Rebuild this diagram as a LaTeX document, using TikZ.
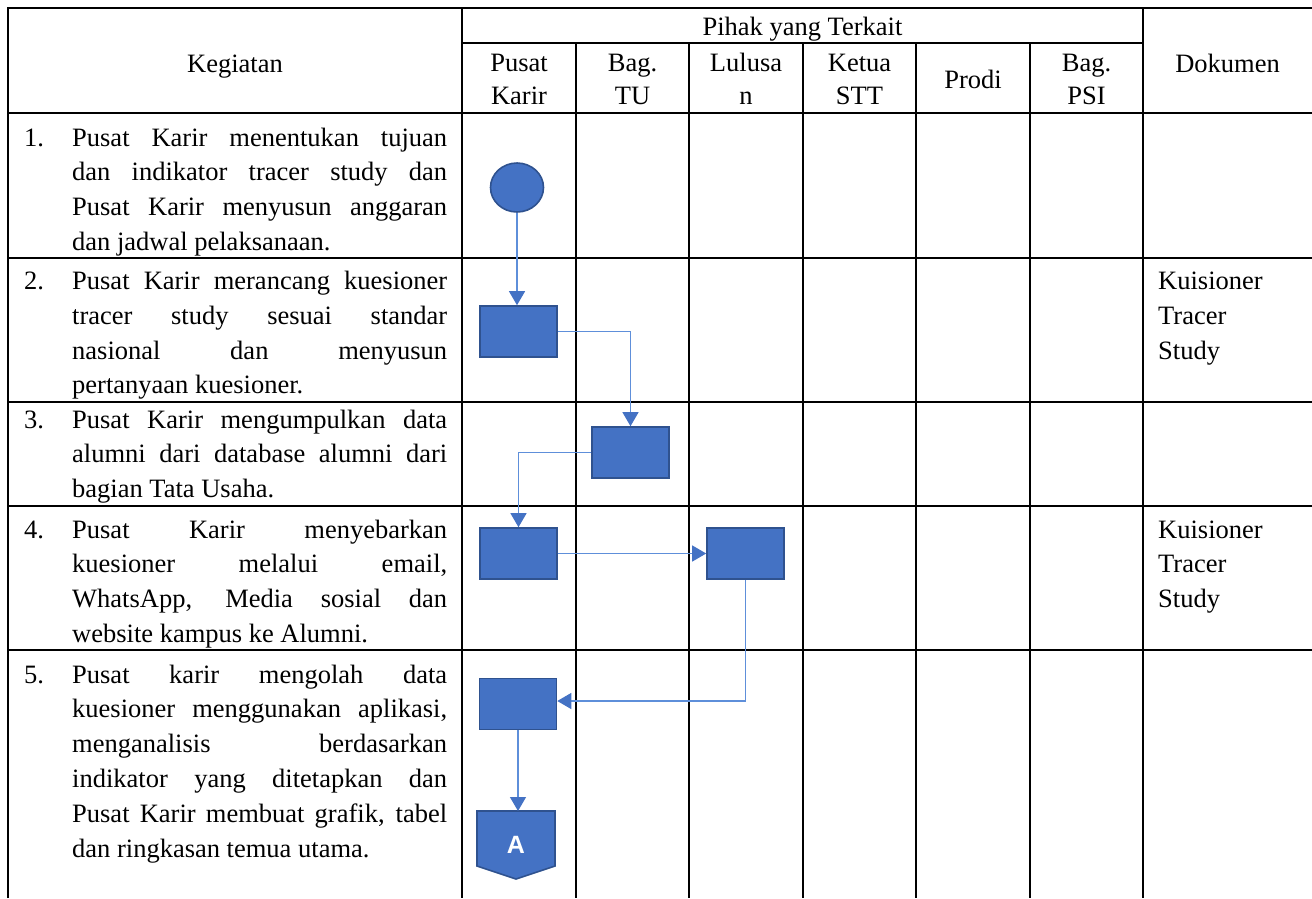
\documentclass[tikz,border=0pt]{standalone}
\usepackage{fontspec}
\setmainfont{Liberation Serif}
\newfontfamily\labelsans{Liberation Sans}
\usetikzlibrary{arrows.meta,shapes.geometric}
\definecolor{boxfill}{HTML}{4472C4}
\definecolor{boxedge}{HTML}{2F528F}
\definecolor{flowline}{HTML}{5E8FDA}
\tolerance=10000
\hbadness=10000
\hyphenpenalty=10000
\begin{document}
\begin{tikzpicture}[x=1pt,y=-1pt,
  grid/.style={line width=1.6pt,black},
  proc/.style={draw=boxedge,fill=boxfill,line width=1.6pt,minimum width=77pt,minimum height=51pt,inner sep=0pt},
  startnode/.style={ellipse,draw=boxedge,fill=boxfill,line width=1.6pt,minimum width=53pt,minimum height=49pt,inner sep=0pt},
  offpage/.style={draw=boxedge,fill=boxfill,line width=1.6pt,line join=miter},
  flow/.style={draw=flowline,line width=1.2pt,-{Triangle[width=16pt,length=14pt,color=boxfill]}},
  body/.style={anchor=base west,inner sep=0pt,text width=375pt,align=justify,font=\fontsize{26.5}{34.8}\selectfont},
  numlab/.style={anchor=base west,inner sep=0pt,font=\fontsize{26.5}{34.8}\selectfont},
  doclab/.style={anchor=base west,inner sep=0pt,text width=150pt,align=left,font=\fontsize{26.5}{34.8}\selectfont},
  hdr/.style={anchor=base,inner sep=0pt,text width=112pt,align=center,font=\fontsize{26.5}{33.5}\selectfont},
  widehdr/.style={anchor=base,inner sep=0pt,font=\fontsize{26.5}{33.5}\selectfont}
]
\useasboundingbox (0,0) rectangle (1312,898);

% table frame and rules
\draw[grid] (8,898) -- (8,8) -- (1312,8);
\draw[grid] (462,8) -- (462,898);
\draw[grid] (1143,8) -- (1143,898);
\draw[grid] (462,43) -- (1143,43);
\foreach \xx in {576,689,803,916,1030}
  \draw[grid] (\xx,43) -- (\xx,898);
\foreach \yy in {113,258,402,506,650}
  \draw[grid] (8,\yy) -- (1312,\yy);

% header texts
\node[widehdr] (hkeg) at (235,72) {Kegiatan};
\node[widehdr] (hpihak) at (802.5,35) {Pihak yang Terkait};
\node[widehdr] (hdok) at (1227.5,72) {Dokumen};
\node[hdr] (hpk) at (519,71) {Pusat\\Karir};
\node[hdr] (htu) at (632.5,71) {Bag.\\TU};
\node[hdr] (hlul) at (746,71) {Lulusa\\n};
\node[hdr] (hstt) at (859.5,71) {Ketua\\STT};
\node[widehdr] (hprodi) at (973,88) {Prodi};
\node[hdr] (hpsi) at (1086.5,71) {Bag.\\PSI};

% activity descriptions
\node[numlab] (n1) at (24,146) {1.};
\node[body] (t1) at (72,146) {Pusat Karir menentukan tujuan\linebreak dan indikator tracer study dan\linebreak Pusat Karir menyusun anggaran\linebreak dan jadwal pelaksanaan.};
\node[numlab] (n2) at (24,289.5) {2.};
\node[body] (t2) at (72,289.5) {Pusat Karir merancang kuesioner\linebreak tracer study sesuai standar\linebreak nasional dan menyusun\linebreak pertanyaan kuesioner.};
\node[numlab] (n3) at (24,428) {3.};
\node[body] (t3) at (72,428) {Pusat Karir mengumpulkan data\linebreak alumni dari database alumni dari\linebreak bagian Tata Usaha.};
\node[numlab] (n4) at (24,538) {4.};
\node[body] (t4) at (72,538) {Pusat Karir menyebarkan\linebreak kuesioner melalui email,\linebreak WhatsApp, Media sosial dan\linebreak website kampus ke Alumni.};
\node[numlab] (n5) at (24,683) {5.};
\node[body] (t5) at (72,683) {Pusat karir mengolah data\linebreak kuesioner menggunakan aplikasi,\linebreak menganalisis berdasarkan\linebreak indikator yang ditetapkan dan\linebreak Pusat Karir membuat grafik, tabel\linebreak dan ringkasan temua utama.};

% documents
\node[doclab] (d2) at (1158,289.5) {Kuisioner\\Tracer\\Study};
\node[doclab] (d4) at (1158,538) {Kuisioner\\Tracer\\Study};

% flowchart symbols
\node[startnode] (c0) at (517,187.5) {};
\node[proc] (r1) at (518.5,331.5) {};
\node[proc] (r2) at (630.5,452.5) {};
\node[proc] (r3) at (518.5,553.5) {};
\node[proc] (r4) at (745.5,553.5) {};
\node[proc] (r5) at (518,704) {};
\draw[offpage] (477,811) -- (555,811) -- (555,866) -- (516,879) -- (477,866) -- cycle;
\coordinate (offtop) at (516,811);
\node[anchor=base,inner sep=0pt,text=white,font=\labelsans\bfseries\fontsize{25}{25}\selectfont] (alabel) at (516,853) {A};

% connectors
\draw[flow] (c0.south) -- (c0.south |- r1.north);
\draw[flow] (r1.east) -| (r2.north);
\draw[flow] (r2.west) -| (r3.north);
\draw[flow] (r3.east) -- (r4.west);
\draw[flow] (r4.south) |- ([yshift=3pt]r5.east);
\draw[flow] (r5.south) -- (r5.south |- offtop);
\end{tikzpicture}
\end{document}
